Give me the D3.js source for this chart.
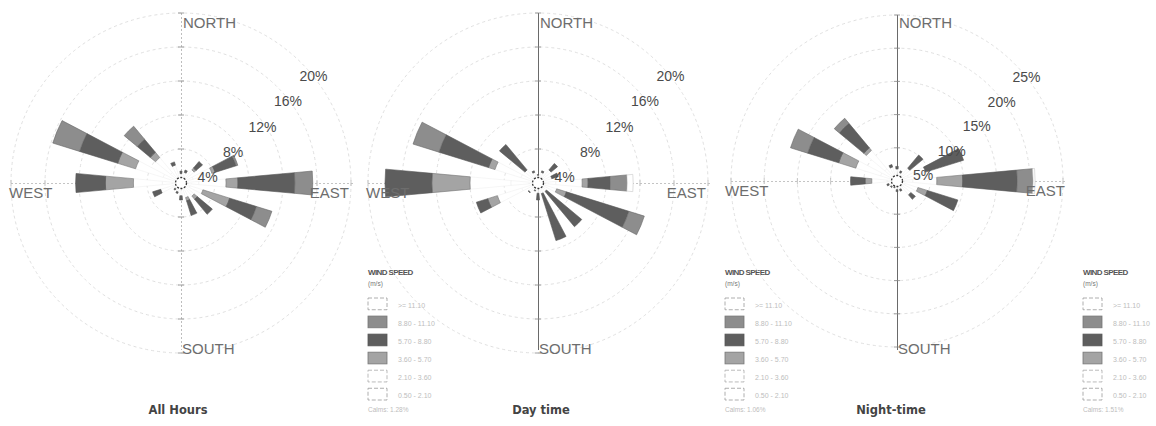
<!DOCTYPE html>
<html>
<head>
<meta charset="utf-8">
<script src="https://cdn.jsdelivr.net/npm/d3@7"></script>
<style>
  body { margin: 0; background: #fff; }
  svg { display: block; font-family: "Liberation Sans", Arial, sans-serif; }
</style>
</head>
<body>
<div id="chart"></div>
<script>
// 16 compass sectors, clockwise from north
const directions = ["N", "NNE", "NE", "ENE", "E", "ESE", "SE", "SSE", "S", "SSW", "SW", "WSW", "W", "WNW", "NW", "NNW"];
// legend order, top to bottom
const speedLabels = [">= 11.10", "8.80 - 11.10", "5.70 - 8.80", "3.60 - 5.70", "2.10 - 3.60", "0.50 - 2.10"];

// frequency (%) per speed class, classes stacked from centre outward
// All hours
const allB1 = [0.5, 0.6, 0.8, 1.5, 2.1, 1.1, 0.8, 0.7, 0.6, 0.5, 0.4, 1.0, 2.2, 2.2, 1.6, 0.9];
const allB2 = [0.6, 0.7, 1.2, 2.3, 3.2, 1.6, 1.2, 1.1, 0.9, 0.6, 0.5, 1.5, 3.4, 3.4, 2.3, 1.3];
const allB3 = [0.0, 0.0, 0.3, 0.4, 1.4, 3.3, 0.5, 0.4, 0.0, 0.0, 0.0, 0.0, 3.3, 2.2, 0.8, 0.0];
const allB4 = [0.3, 0.3, 1.0, 2.6, 6.7, 3.3, 2.3, 1.8, 0.5, 0.2, 0.2, 1.0, 3.5, 4.7, 2.0, 0.4];
const allB5 = [0.0, 0.0, 0.0, 0.2, 2.1, 1.9, 0.0, 0.0, 0.0, 0.0, 0.0, 0.0, 0.0, 3.3, 2.0, 0.0];
const allB6 = [0.0, 0.0, 0.0, 0.0, 0.0, 0.0, 0.0, 0.0, 0.0, 0.0, 0.0, 0.0, 0.0, 0.0, 0.0, 0.0];
// Day time
const dayB1 = [0.4, 0.6, 0.8, 0.7, 2.1, 0.9, 0.6, 0.5, 0.5, 0.4, 0.6, 2.0, 3.2, 2.1, 0.8, 0.6];
const dayB2 = [0.5, 0.7, 1.2, 1.0, 3.1, 1.4, 0.7, 0.8, 0.7, 0.5, 0.8, 3.0, 4.8, 3.2, 1.2, 0.7];
const dayB3 = [0.0, 0.0, 0.0, 0.0, 0.7, 1.2, 0.0, 0.0, 0.0, 0.0, 0.0, 1.2, 4.5, 0.8, 0.0, 0.0];
const dayB4 = [0.1, 0.2, 1.0, 0.8, 2.6, 7.7, 5.4, 5.8, 0.8, 0.1, 0.1, 1.4, 5.5, 6.1, 3.9, 0.2];
const dayB5 = [0.0, 0.0, 0.0, 0.0, 2.0, 1.9, 0.0, 0.0, 0.0, 0.0, 0.0, 0.0, 0.0, 3.2, 0.0, 0.0];
const dayB6 = [0.0, 0.0, 0.0, 0.0, 0.7, 0.0, 0.0, 0.0, 0.0, 0.0, 0.0, 0.0, 0.0, 0.0, 0.0, 0.0];
// Night-time
const nightB1 = [0.8, 0.6, 1.0, 1.8, 2.4, 1.3, 1.1, 0.6, 0.6, 0.4, 0.5, 0.6, 1.5, 2.6, 2.4, 1.0];
const nightB2 = [1.0, 0.7, 1.5, 2.7, 3.6, 2.0, 1.6, 0.7, 0.7, 0.5, 0.6, 0.7, 2.3, 3.9, 3.6, 1.2];
const nightB3 = [0.0, 0.0, 0.0, 0.0, 3.9, 1.5, 0.0, 0.0, 0.0, 0.0, 0.0, 0.0, 1.0, 2.7, 0.5, 0.0];
const nightB4 = [0.4, 0.3, 2.6, 6.0, 8.2, 4.8, 0.9, 0.3, 0.3, 0.2, 0.2, 0.3, 2.2, 4.9, 4.8, 0.4];
const nightB5 = [0.0, 0.0, 0.0, 0.0, 2.4, 0.0, 0.0, 0.0, 0.0, 0.0, 0.0, 0.0, 0.0, 2.7, 1.0, 0.0];
const nightB6 = [0.0, 0.0, 0.0, 0.0, 0.3, 0.0, 0.0, 0.0, 0.0, 0.0, 0.0, 0.0, 0.0, 0.0, 0.0, 0.0];

const allTicks = [4, 8, 12, 16, 20];
const dayTicks = [4, 8, 12, 16, 20];
const nightTicks = [5, 10, 15, 20, 25];

const calmLabels = ["Calms: 1.28%", "Calms: 1.06%", "Calms: 1.51%"];

// fills for speed classes, centre outward
const binFill = ["#ffffff", "#ffffff", "#a4a4a4", "#5e5e5e", "#8d8d8d", "#ffffff"];
const binStroke = ["#f0f0f0", "#f0f0f0", "#777", "#555", "#666", "#c8c8c8"];

const W = 1156, H = 426;
const svg = d3.select("#chart").append("svg")
  .attr("width", W)
  .attr("height", H);

const roses = [
  { title: "All Hours", cx: 181, cy: 183, R: 170, ticks: allTicks, bins: [allB1, allB2, allB3, allB4, allB5, allB6], solidAxis: false, legendX: 368, titleX: 178 },
  { title: "Day time", cx: 538, cy: 183, R: 170, ticks: dayTicks, bins: [dayB1, dayB2, dayB3, dayB4, dayB5, dayB6], solidAxis: true, legendX: 725, titleX: 541 },
  { title: "Night-time", cx: 897, cy: 181, R: 166, ticks: nightTicks, bins: [nightB1, nightB2, nightB3, nightB4, nightB5, nightB6], solidAxis: true, legendX: 1083, titleX: 891 }
];

const sector = d3.scaleBand().domain(directions).range([0, 2 * Math.PI]).align(0);
const halfWidth = 5.2 * Math.PI / 180;

roses.forEach((rose, ri) => {
  const g = svg.append("g").attr("transform", `translate(${rose.cx},${rose.cy})`);
  const r = d3.scaleLinear().domain([0, d3.max(rose.ticks)]).range([0, rose.R]);

  // rings
  g.selectAll("circle.ring")
    .data(rose.ticks)
    .join("circle")
    .attr("class", "ring")
    .attr("r", d => r(d))
    .attr("fill", "none")
    .attr("stroke", "#e0e0e0")
    .attr("stroke-width", 1)
    .attr("stroke-dasharray", "3,3");

  // axes
  g.append("line")
    .attr("x1", -rose.R).attr("x2", rose.R + 2).attr("y1", 0.5).attr("y2", 0.5)
    .attr("stroke", "#c4c4c4").attr("stroke-dasharray", "2,2")
    .attr("shape-rendering", "crispEdges");
  g.append("line")
    .attr("x1", 0.5).attr("x2", 0.5).attr("y1", -rose.R).attr("y2", 350 - rose.cy)
    .attr("stroke", rose.solidAxis ? "#6a6a6a" : "#bdbdbd")
    .attr("stroke-width", rose.solidAxis ? 1.2 : 1)
    .attr("stroke-dasharray", rose.solidAxis ? null : "2,2")
    .attr("shape-rendering", "crispEdges");

  // tick marks on the axes
  rose.ticks.forEach(t => {
    [[0, -r(t)], [0, r(t)]].forEach(([x, y]) => {
      g.append("line").attr("x1", x - 3).attr("x2", x + 3).attr("y1", y).attr("y2", y)
        .attr("stroke", "#888").attr("stroke-width", 0.8);
    });
    [[-r(t), 0], [r(t), 0]].forEach(([x, y]) => {
      g.append("line").attr("x1", x).attr("x2", x).attr("y1", y - 3).attr("y2", y + 3)
        .attr("stroke", "#bbb").attr("stroke-width", 0.8);
    });
  });

  // stacked wedges
  const segs = [];
  directions.forEach((dir, di) => {
    let cum = 0;
    rose.bins.forEach((arr, bi) => {
      const v = arr[di];
      if (v > 0) segs.push({ dir, bin: bi, r0: cum, r1: cum + v });
      cum += v;
    });
  });

  const arc = d3.arc()
    .innerRadius(d => r(d.r0))
    .outerRadius(d => r(d.r1))
    .startAngle(d => sector(d.dir) - halfWidth)
    .endAngle(d => sector(d.dir) + halfWidth);

  g.selectAll("path.seg")
    .data(segs)
    .join("path")
    .attr("class", "seg")
    .attr("d", arc)
    .attr("fill", d => binFill[d.bin])
    .attr("stroke", d => binStroke[d.bin])
    .attr("stroke-width", 0.6);

  // calm circle
  g.append("circle").attr("r", 5.5)
    .attr("fill", "#fff").attr("stroke", "#333").attr("stroke-width", 1.3)
    .attr("stroke-dasharray", "2,1.5");

  // percent labels
  g.selectAll("text.pct")
    .data(rose.ticks)
    .join("text")
    .attr("class", "pct")
    .attr("x", d => 0.75 * r(d) - 9)
    .attr("y", d => -0.74 * r(d) + 24)
    .attr("font-size", 14)
    .attr("fill", "#4a4a4a")
    .text(d => d + "%");

  // compass labels
  const addLab = (txt, x, y, anchor) => g.append("text")
    .attr("x", x).attr("y", y).attr("text-anchor", anchor)
    .attr("font-size", 15).attr("fill", "#6d6d6d").text(txt);
  addLab("NORTH", 2, 28 - rose.cy, "start");
  addLab("SOUTH", 1, 354 - rose.cy, "start");
  addLab("EAST", 168, 15, "end");
  addLab("WEST", -172, 15, "start");

  // title
  svg.append("text")
    .attr("x", rose.titleX).attr("y", 414)
    .attr("text-anchor", "middle")
    .attr("font-family", "DejaVu Sans, Verdana, sans-serif")
    .attr("font-weight", "bold")
    .attr("font-size", 11.5)
    .attr("fill", "#444")
    .text(rose.title);

  // legend
  const lg = svg.append("g").attr("transform", `translate(${rose.legendX},270)`);
  lg.append("text").attr("x", 0).attr("y", 5)
    .attr("font-size", 8).attr("font-weight", "bold").attr("letter-spacing", -0.6)
    .attr("fill", "#555").text("WIND SPEED");
  lg.append("text").attr("x", 0).attr("y", 16)
    .attr("font-size", 6.5).attr("fill", "#777").text("(m/s)");
  const legendFill = [binFill[5], binFill[4], binFill[3], binFill[2], binFill[1], binFill[0]];
  const legendStroke = ["#999", "#777", "#555", "#777", "#aaa", "#999"];
  const ly = d3.scaleBand().domain(speedLabels).range([28, 130]).paddingInner(0.35);
  lg.selectAll("rect.key")
    .data(speedLabels)
    .join("rect")
    .attr("class", "key")
    .attr("x", 0)
    .attr("y", d => ly(d))
    .attr("width", 19)
    .attr("height", ly.bandwidth())
    .attr("fill", (d, i) => legendFill[i])
    .attr("stroke", (d, i) => legendStroke[i])
    .attr("stroke-width", 0.8)
    .attr("stroke-dasharray", (d, i) => legendFill[i] === "#ffffff" ? "4,2" : null);
  lg.selectAll("text.key")
    .data(speedLabels)
    .join("text")
    .attr("class", "key")
    .attr("x", 30)
    .attr("y", d => ly(d) + ly.bandwidth() - 2)
    .attr("font-size", 7)
    .attr("fill", "#bdbdbd")
    .text(d => d);
  lg.append("text").attr("x", 0).attr("y", 142)
    .attr("font-size", 6.5).attr("fill", "#bdbdbd").text(calmLabels[ri]);
});
</script>
</body>
</html>
